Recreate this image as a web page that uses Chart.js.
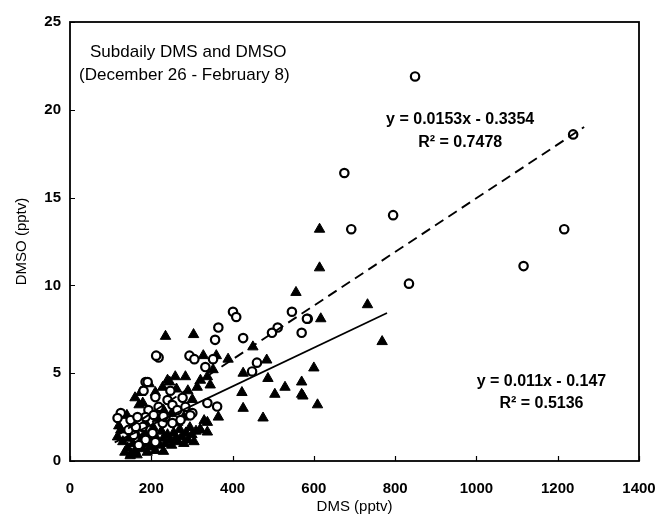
<!DOCTYPE html>
<html>
<head>
<meta charset="utf-8">
<script src="https://cdn.jsdelivr.net/npm/chart.js@4.4.1/dist/chart.umd.min.js"></script>
<style>
  html, body { margin: 0; padding: 0; background: #fff; }
  #wrap { width: 662px; height: 517px; position: relative; }
</style>
</head>
<body>
<div id="wrap"><canvas id="chart"></canvas></div>
<script>
// open circles: DMSO vs DMS
const circleDms = [849, 1238, 675, 795, 692, 1216, 1116, 834, 546, 585, 583, 570, 511, 497, 401, 409, 365, 357, 426,
  218, 212, 294, 306, 352, 460, 448, 333, 186, 181, 247, 277, 338, 362, 125, 117, 149, 179, 210, 218, 193, 240,
  252, 264, 284, 301, 272, 252, 228, 203, 186, 169, 210, 157, 144, 162, 186, 206, 235, 296, 166, 230, 191];
const circleDmso = [21.9, 18.6, 16.4, 14.0, 13.2, 13.2, 11.1, 10.1, 8.5, 8.1, 8.1, 7.3, 7.6, 7.3, 8.5, 8.2, 7.6, 6.9, 7.0,
  5.9, 6.0, 6.0, 5.8, 5.8, 5.6, 5.1, 5.35, 4.5, 4.0, 4.0, 3.6, 3.3, 3.1, 2.73, 2.45, 2.33, 1.94, 3.64, 3.08, 2.9, 3.47,
  3.19, 2.9, 3.08, 2.73, 2.33, 2.16, 2.16, 1.59, 1.2, 0.91, 1.08, 1.48, 1.77, 1.94, 2.5, 2.62, 2.5, 2.6, 2.5, 2.55, 4.5];

// filled triangles
const triDms = [614, 614, 556, 732, 617, 768, 600, 570, 573, 609, 235, 304, 450, 328, 360, 389, 484, 426, 352, 487,
  529, 504, 570, 423, 426, 475, 338, 240, 259, 284, 321, 313, 365, 338, 345,
  117, 125, 142, 135, 150, 130, 120, 145, 155, 160, 165, 170, 175, 180, 185, 190, 195, 200, 205, 210, 215, 220,
  225, 230, 235, 240, 245, 250, 255, 260, 265, 270, 275, 280, 285, 290, 295, 300, 305, 310, 320, 330, 338, 321,
  185, 200, 215, 230, 250, 265, 280, 155, 140, 170, 174, 179, 160, 228, 245, 262, 290, 301, 195, 210, 148, 165,
  190, 210, 230];
const triDmso = [13.2, 11.0, 9.6, 8.9, 8.1, 6.8, 5.3, 4.5, 3.7, 3.2, 7.1, 7.2, 6.5, 6.0, 6.0, 5.8, 5.75, 5.0, 5.2, 4.7,
  4.2, 3.8, 3.8, 3.9, 3.0, 2.45, 4.8, 4.6, 4.8, 4.8, 4.6, 4.2, 2.5, 2.2, 4.33,
  1.37, 1.77, 0.74, 0.5, 0.4, 1.1, 2.0, 1.3, 1.0, 0.6, 1.5, 0.9, 1.2, 0.7, 1.6, 1.0, 1.3, 0.8, 1.9, 1.4, 1.1, 0.9,
  1.7, 1.3, 1.0, 1.5, 1.2, 0.9, 1.6, 1.3, 1.1, 1.8, 1.4, 1.0, 1.6, 1.2, 1.9, 1.5, 1.1, 1.7, 1.8, 2.3, 1.65, 1.77,
  2.2, 2.6, 2.4, 2.9, 2.7, 2.2, 2.5, 2.1, 2.6, 3.2, 3.9, 3.3, 3.6, 4.2, 4.5, 4.1, 4.0, 3.5, 4.4, 3.9, 0.3, 0.35,
  0.5, 0.6, 0.55];

// regression lines (end points)
const fitCircleX = [110, 1265];
const fitCircleY = [1.35, 19.02];
const fitTriX = [110, 780];
const fitTriY = [1.06, 8.43];

const xTicks = [0, 200, 400, 600, 800, 1000, 1200, 1400];
const yTicks = [0, 5, 10, 15, 20, 25];

const FONT = "\"Liberation Sans\", Arial, sans-serif";

function toPoints(xs, ys) {
  return xs.map((x, i) => ({ x: x, y: ys[i] }));
}

Chart.register({
  id: "frameAndText",
  afterDatasetsDraw(chart) {
    const ctx = chart.ctx;
    const area = chart.chartArea;
    const xs = chart.scales.x;
    const ys = chart.scales.y;

    ctx.save();
    ctx.strokeStyle = "#000";
    ctx.lineWidth = 1.8;
    ctx.strokeRect(area.left, area.top, area.right - area.left, area.bottom - area.top);

    // inward tick marks
    ctx.lineWidth = 1.2;
    ctx.beginPath();
    xTicks.forEach((v) => {
      const px = Math.round(xs.getPixelForValue(v)) + 0.5;
      ctx.moveTo(px, area.bottom);
      ctx.lineTo(px, area.bottom - 5);
    });
    yTicks.forEach((v) => {
      const py = Math.round(ys.getPixelForValue(v)) + 0.5;
      ctx.moveTo(area.left, py);
      ctx.lineTo(area.left + 5, py);
    });
    ctx.stroke();

    ctx.fillStyle = "#000";
    ctx.textBaseline = "middle";
    ctx.textAlign = "left";
    ctx.font = `17px ${FONT}`;
    ctx.fillText("Subdaily DMS and DMSO", area.left + 20, 52);
    ctx.fillText("(December 26 - February 8)", area.left + 9, 75);

    ctx.textAlign = "center";
    ctx.font = `bold 16px ${FONT}`;
    ctx.fillText("y = 0.0153x - 0.3354", xs.getPixelForValue(960), ys.getPixelForValue(19.45));
    ctx.fillText("R\u00b2 = 0.7478", xs.getPixelForValue(960), ys.getPixelForValue(18.15));
    ctx.fillText("y = 0.011x - 0.147", xs.getPixelForValue(1160), ys.getPixelForValue(4.5));
    ctx.fillText("R\u00b2 = 0.5136", xs.getPixelForValue(1160), ys.getPixelForValue(3.25));
    ctx.restore();
  }
});

new Chart(document.getElementById("chart"), {
  type: "scatter",
  data: {
    datasets: [
      {
        label: "DMSO fit (circles)",
        type: "line",
        data: toPoints(fitCircleX, fitCircleY),
        borderColor: "#000",
        borderWidth: 1.9,
        borderDash: [10, 6],
        pointRadius: 0,
        fill: false,
        order: 0
      },
      {
        label: "DMSO fit (triangles)",
        type: "line",
        data: toPoints(fitTriX, fitTriY),
        borderColor: "#000",
        borderWidth: 1.7,
        pointRadius: 0,
        fill: false,
        order: 0
      },
      {
        label: "Open circles",
        data: toPoints(circleDms, circleDmso),
        pointStyle: "circle",
        pointRadius: 4.2,
        borderWidth: 2.2,
        borderColor: "#000",
        backgroundColor: "#fff",
        order: 1
      },
      {
        label: "Triangles",
        data: toPoints(triDms, triDmso),
        pointStyle: "triangle",
        pointRadius: 6,
        borderWidth: 1,
        borderColor: "#000",
        backgroundColor: "#000",
        order: 2
      }
    ]
  },
  options: {
    responsive: true,
    maintainAspectRatio: false,
    animation: false,
    layout: {
      padding: { top: 22, right: 23, bottom: 0, left: 0 }
    },
    plugins: {
      legend: { display: false },
      tooltip: { enabled: false }
    },
    scales: {
      x: {
        type: "linear",
        min: 0,
        max: 1400,
        afterFit: (scale) => {
          scale.height = 56;
          scale.paddingLeft = 0;
          scale.paddingRight = 0;
        },
        afterBuildTicks: (scale) => { scale.ticks = xTicks.map((v) => ({ value: v })); },
        ticks: {
          color: "#000",
          padding: 19,
          callback: (v) => String(v),
          font: { family: FONT, size: 15, weight: "bold" }
        },
        grid: { display: false, drawTicks: false },
        border: { display: false },
        title: {
          display: true,
          text: "DMS (pptv)",
          color: "#000",
          padding: { top: 0, bottom: 1 },
          font: { family: FONT, size: 15 }
        }
      },
      y: {
        type: "linear",
        min: 0,
        max: 25,
        afterFit: (scale) => {
          scale.width = 70;
          scale.paddingTop = 0;
          scale.paddingBottom = 0;
        },
        afterBuildTicks: (scale) => { scale.ticks = yTicks.map((v) => ({ value: v })); },
        ticks: {
          color: "#000",
          padding: 9,
          callback: (v) => String(v),
          font: { family: FONT, size: 15, weight: "bold" }
        },
        grid: { display: false, drawTicks: false },
        border: { display: false },
        title: {
          display: true,
          text: "DMSO (pptv)",
          color: "#000",
          padding: { top: 13, bottom: 0 },
          font: { family: FONT, size: 15 }
        }
      }
    }
  }
});
</script>
</body>
</html>
